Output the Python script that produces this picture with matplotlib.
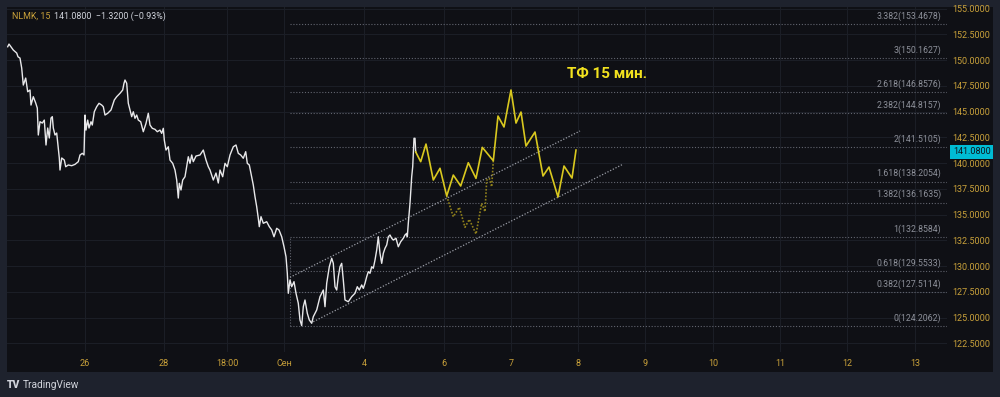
import matplotlib
matplotlib.use('Agg')
import matplotlib.pyplot as plt
from matplotlib.patches import Rectangle
import matplotlib.transforms as mtransforms

plt.rcParams['font.family'] = ['Roboto', 'DejaVu Sans']

# ---------------- data ----------------
# history (x in bar-slot units, price)
white_pts = [
    (7.7, 151.29), (9, 151.55), (13.3, 150.97), (16.7, 150.68), (18, 150.32), (20, 150.19),
    (21.7, 149.22), (23.3, 147.57), (25.7, 148.25), (27.7, 146.92), (30, 147.09), (31, 145.63),
    (33.3, 146.44), (35.7, 145.83), (37.3, 145.34), (38.3, 142.72), (40, 144.01), (42.3, 143.88),
    (44.3, 144.17), (46, 141.75), (47.7, 143.40), (49.3, 142.43), (51, 144.37), (52.3, 144.50),
    (53.3, 143.40), (55, 142.72), (56.7, 142.91), (58.3, 141.46), (59.3, 140.49), (60, 139.32),
    (61.7, 140.49), (64.3, 140.29), (65.7, 139.64), (68.3, 139.81), (71.7, 139.74), (75, 139.87),
    (78.3, 140.13), (80, 140.78), (82.3, 140.94), (84, 140.78), (85, 144.66), (86, 143.20),
    (87.7, 144.17), (89, 143.40), (91, 144.01), (92.3, 143.69), (94.3, 144.98), (96.7, 145.47),
    (99, 145.80), (101.7, 145.63), (103.3, 145.47), (105, 144.66), (107.7, 144.83), (111, 145.15),
    (114.3, 146.12), (116.7, 146.44), (120, 146.77), (122.7, 147.09), (124, 147.74), (125, 148.06),
    (126.7, 147.74), (128.3, 145.80), (130, 145.15), (131.7, 144.50), (133.3, 144.98), (135, 144.34),
    (136.7, 144.66), (138.3, 144.17), (140.7, 144.01), (143.3, 143.04), (146, 143.85), (148.3, 144.83),
    (150, 143.69), (152.3, 143.37), (155, 143.27), (157.3, 143.04), (160, 143.20), (161.7, 142.88),
    (163.3, 143.37), (164.3, 142.23), (166, 141.26), (168.3, 141.58), (170, 140.29), (172.7, 139.97),
    (175, 139.32), (176.7, 138.35), (178.3, 136.60), (179.3, 138.03), (181, 137.38), (182.7, 138.35),
    (185, 138.67), (186.7, 139.64), (188.3, 140.61), (190, 139.97), (191.7, 140.78), (193.3, 140.13),
    (196, 140.68), (200, 140.78), (203.3, 141.26), (206, 140.29), (208.3, 139.64), (210, 139.32),
    (213.3, 138.35), (216, 139.03), (218.3, 138.06), (220, 139.32), (222.7, 138.67), (225, 139.97),
    (227.3, 139.64), (230, 140.78), (233.3, 141.58), (236, 141.75), (238.3, 140.94), (240.7, 140.78),
    (243.3, 140.46), (245.7, 141.10), (247.3, 139.97), (249.3, 139.81), (251.7, 138.67), (253.3, 137.86),
    (255, 136.73), (256.7, 135.76), (258.3, 134.63), (259.3, 133.82), (261, 134.79), (263.3, 134.15),
    (266.7, 134.30), (269.3, 133.82), (271.7, 133.50), (274, 132.84), (276.7, 133.66), (279, 133.50),
    (281.7, 132.84), (284, 131.87), (286, 130.90), (287.3, 129.29), (288.3, 127.35), (290, 128.64),
    (291.7, 127.99), (294, 128.48), (296, 127.35), (298.3, 126.38), (300, 124.76), (301.7, 124.21),
    (303.3, 126.05), (305, 126.70), (307.3, 125.41), (309.3, 124.76), (311.7, 124.44), (313.3, 125.08),
    (316.7, 125.73), (320, 127.02), (321.7, 127.35), (323.3, 127.67), (325, 126.05), (326.7, 128.32),
    (329.3, 129.93), (331.7, 130.75), (333.3, 130.26), (335, 127.99), (336.7, 127.67), (338.3, 128.96),
    (340, 129.93), (341.7, 130.26), (343.3, 128.64), (345, 126.70), (348.3, 126.53), (351.7, 127.02),
    (355, 127.35), (357.3, 127.99), (359.3, 127.67), (361.7, 128.16), (363.3, 127.83), (365, 128.32),
    (366.7, 128.96), (368.3, 129.45), (370, 129.29), (371.7, 129.93), (373.3, 129.78), (375, 130.58),
    (376.7, 131.55), (378.3, 132.84), (380, 131.23), (381.7, 130.26), (383.3, 131.23), (385, 131.72),
    (386.7, 132.04), (388.3, 132.84), (390, 133.01), (391.7, 132.69), (393.3, 132.52), (396, 132.69),
    (398.3, 131.87), (400.7, 132.36), (403.3, 132.69), (405, 133.01), (406.7, 133.17), (407.3, 132.84),
    (408.3, 134.15), (410, 136.09), (411.7, 138.67), (412.7, 139.64), (413.3, 140.94), (414, 142.40),
    (415, 142.40), (415.7, 141.08),
]

# hand-drawn forecast (solid) and alternative (dotted)
forecast_solid = [
    (415.7, 141.08), (420.7, 140.13), (426, 141.84), (433.3, 138.35), (440, 139.49), (446.7, 136.80),
    (453.3, 138.83), (460.7, 137.77), (468.3, 140.03), (476, 138.51), (482.3, 141.52), (493.3, 140.22),
    (498, 144.56), (504, 143.50), (511, 147.09), (516, 143.88), (521, 144.95), (526, 141.65),
    (535, 143.01), (543, 138.74), (549, 139.61), (558, 136.70), (564, 139.71), (572, 138.54),
    (576, 141.26),
]
forecast_dotted = [
    (446.7, 136.80), (453.3, 134.79), (459.3, 135.70), (465, 133.76), (469.3, 134.53), (476, 133.11),
    (481.7, 136.09), (485, 135.28), (486.7, 138.35), (489.3, 138.51), (491.7, 137.70), (493.3, 140.22),
]

channel_upper = [(290, 128.90), (580, 143.11)]
channel_lower = [(313.3, 124.59), (623.3, 139.90)]

fib_ratios = ['0', '0.382', '0.618', '1', '1.382', '1.618', '2', '2.382', '2.618', '3', '3.382']
fib_prices = [124.2062, 127.5114, 129.5533, 132.8584, 136.1635, 138.2054,
              141.5105, 144.8157, 146.8576, 150.1627, 153.4678]
fib_start = 290
fib_label_x = 941

price_ticks = [122.5, 125.0, 127.5, 130.0, 132.5, 135.0, 137.5, 140.0,
               142.5, 145.0, 147.5, 150.0, 152.5, 155.0]
time_tick_pos = [85, 164, 227, 284, 364, 444, 511, 578, 645, 713, 780, 847, 915]
time_tick_labels = ['26', '28', '18:00', 'Сен', '4', '6', '7', '8', '9', '10', '11', '12', '13']
last_price = 141.08

# ---------------- style ----------------
W, H = 1000, 397
FRAME = '#1e222d'
BG = '#0f1015'
GRID = '#1b1e26'
GOLD = '#c9a13a'

fig = plt.figure(figsize=(W / 100, H / 100), dpi=100, facecolor=FRAME)
fig.patches.append(Rectangle((7 / W, 1 - 372 / H), (993 - 7) / W, (372 - 7) / H,
                             transform=fig.transFigure, facecolor=BG, edgecolor='none', zorder=-5))
ax = fig.add_axes([7 / W, 1 - 352 / H, (947 - 7) / W, (352 - 7) / H])
ax.set_zorder(1)
ax.set_facecolor(BG)
ax.set_xlim(7, 947)
ax.set_ylim(121.65, 155.15)
for s in ax.spines.values():
    s.set_visible(False)

ax.set_xticks(time_tick_pos)
ax.set_xticklabels(time_tick_labels)
ax.set_yticks(price_ticks)
ax.set_yticklabels([f'{v:.4f}' for v in price_ticks])
ax.yaxis.tick_right()
ax.tick_params(axis='x', length=0, pad=5, labelsize=6.5, labelcolor=GOLD)
ax.tick_params(axis='y', length=0, pad=4, labelsize=6.5, labelcolor=GOLD)
ax.grid(True, color=GRID, lw=0.8, zorder=0)
ax.set_axisbelow(True)

# fib levels
for r, p in zip(fib_ratios, fib_prices):
    ax.hlines(p, fib_start, 947, colors='#62656f', linestyles=(0, (1, 1.6)), lw=0.8, zorder=1)
    ax.annotate(f'{r}({p:.4f})', xy=(fib_label_x, p), xytext=(0, 2.2), textcoords='offset points',
                ha='right', va='bottom', color='#8d909a', fontsize=6.3, zorder=2)
ax.vlines(fib_start, fib_prices[0], fib_prices[3], colors='#62656f',
          linestyles=(0, (1, 1.6)), lw=0.8, zorder=1)

# channel
for ch in (channel_upper, channel_lower):
    cx, cy = zip(*ch)
    ax.plot(cx, cy, color='#9a9da6', lw=0.9, ls=(0, (1, 1.4)), zorder=3)

# price line
wx, wy = zip(*white_pts)
ax.plot(wx, wy, color='#e8e8ea', lw=1.0, zorder=4)

# forecast
dx, dy = zip(*forecast_dotted)
ax.plot(dx, dy, color='#8f801c', lw=1.2, ls=(0, (1, 1)), zorder=4)
sx, sy = zip(*forecast_solid)
ax.plot(sx, sy, color='#d9c81f', lw=1.2, zorder=5)

ax.text(567, 148.6, 'ТФ 15 мин.', color='#f2e21f', fontsize=11, fontweight='bold',
        va='center', ha='left', zorder=6)

# last price label
trans = mtransforms.blended_transform_factory(ax.transAxes, ax.transData)
ax.annotate(f'{last_price:.4f}', xy=(1, last_price), xycoords=trans, xytext=(4.2, 0),
            textcoords='offset points', ha='left', va='center', fontsize=6.5, color='#10131a',
            bbox=dict(boxstyle='square,pad=0.3', fc='#00bcd4', ec='none'),
            annotation_clip=False, zorder=10)

# header
fig.text(12 / W, 1 - 16 / H, 'NLMK, 15', color=GOLD, fontsize=6.4, va='center', ha='left')
fig.text(54 / W, 1 - 16 / H, f'{last_price:.4f}  −1.3200 (−0.93%)', color='#d1d4dc',
         fontsize=6.4, va='center', ha='left')

# logo
fig.text(7 / W, 1 - 385 / H, 'TV', color='#d1d4dc', fontsize=7.5, fontweight='heavy',
         va='center', ha='left')
fig.text(23 / W, 1 - 385 / H, 'TradingView', color='#d1d4dc', fontsize=7.3,
         va='center', ha='left')

fig.savefig('out.png', dpi=100, facecolor=FRAME)
